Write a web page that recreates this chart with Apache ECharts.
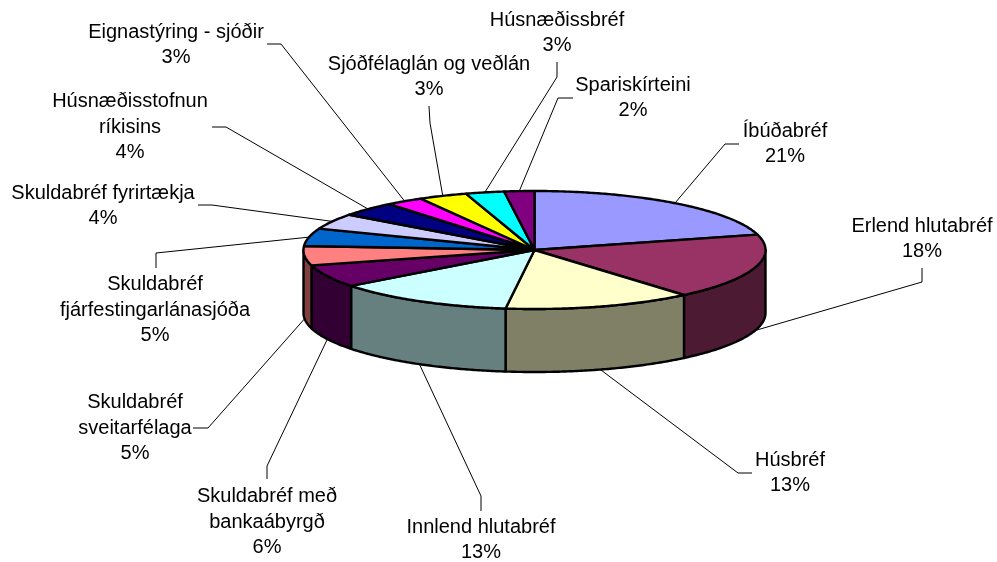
<!DOCTYPE html>
<html>
<head>
<meta charset="utf-8">
<style>html,body{margin:0;padding:0;background:#fff}#c{width:997px;height:562px}</style>
<script src="https://cdn.jsdelivr.net/npm/echarts@6/dist/echarts.min.js"></script>
</head>
<body>
<div id="c"></div>
<script>
// data
const categories = ["Íbúðabréf","Erlend hlutabréf","Húsbréf","Innlend hlutabréf","Skuldabréf með\nbankaábyrgð","Skuldabréf\nsveitarfélaga","Skuldabréf\nfjárfestingarlánasjóða","Skuldabréf fyrirtækja","Húsnæðisstofnun\nríkisins","Eignastýring - sjóðir","Sjóðfélaglán og veðlán","Húsnæðissbréf","Spariskírteini"];
const values = [20.8,18.0,13.2,12.6,6.2,5.3,4.8,4.3,4.0,2.6,3.4,2.7,2.1];
// styles
const topColors = ["#9999FF","#993366","#FFFFCC","#CCFFFF","#660066","#FF8080","#0066CC","#CCCCFF","#000080","#FF00FF","#FFFF00","#00FFFF","#800080"];
const wallColors = ["#4D4D80","#4D1A33","#808066","#668080","#330033","#804040","#003366","#666680","#000040","#800080","#808000","#008080","#400040"];
// layout: label centre and leader elbow points
const labelPos = [[785,144],[922,239],[790,473],[481,540],[267,522],[135,428],[155,310],[103,206],[130,127],[176,45],[429,77],[557,33],[633,98]];
const leaderPts = [
 [[739,144],[725,144]],
 [[922,268],[922,282]],
 [[752,473],[738,473]],
 [[481,511],[481,496]],
 [[267,479],[267,466]],
 [[193,428],[208,428]],
 [[156,268],[156,253]],
 [[198,205],[212,205]],
 [[212,127],[226,127]],
 [[267,44],[281,44]],
 [[429,106],[430,123]],
 [[557,62],[557,77]],
 [[573,98],[558,98]]
];
const cx = 534.5, cy = 250, rx = 231, ry = 59, depth = 63;
const total = values.reduce((a,b)=>a+b,0);
const starts = []; values.reduce((a,b,i)=>{starts[i]=a;return a+b;},0);
const ang = v => v/total*2*Math.PI;
const P = (t,dy) => [cx+rx*Math.sin(t), cy-ry*Math.cos(t)+(dy||0)];
function arc(a,b,dy){const n=Math.max(2,Math.ceil((b-a)/0.01));const r=[];for(let k=0;k<=n;k++)r.push(P(a+(b-a)*k/n,dy));return r;}

function renderPie(params, api){
  const i = api.value(0), v = api.value(1);
  const a = ang(starts[i]), b = a+ang(v);
  const children = [];
  const lo = Math.max(a,Math.PI/2), hi = Math.min(b,1.5*Math.PI);
  if(hi>lo){
    children.push({type:'polygon',shape:{points:arc(lo,hi,0).concat(arc(lo,hi,depth).reverse())},
      style:{fill:wallColors[i],stroke:'#000',lineWidth:2.4,lineJoin:'round'}});
  }
  children.push({type:'polygon',shape:{points:[[cx,cy]].concat(arc(a,b,0))},
    style:{fill:topColors[i],stroke:'#000',lineWidth:2.4,lineJoin:'round'}});
  return {type:'group',children};
}
function renderLabel(params, api){
  const i = api.value(0), v = api.value(1);
  const m = ang(starts[i])+ang(v)/2;
  const front = m>Math.PI/2 && m<1.5*Math.PI;
  const anchor = P(m, front?depth:0);
  const L = labelPos[i];
  return {type:'group',children:[
    {type:'polyline',shape:{points:leaderPts[i].concat([anchor])},style:{fill:null,stroke:'#000',lineWidth:1}},
    {type:'text',style:{x:L[0],y:L[1],text:categories[i]+'\n'+Math.round(v/total*100)+'%',
      align:'center',verticalAlign:'middle',fontFamily:'"Liberation Sans",Arial,sans-serif',fontSize:20,lineHeight:25.7,fill:'#000'}}
  ]};
}
const data = values.map((v,i)=>[i,v]);
const chart = echarts.init(document.getElementById('c'),null,{renderer:'canvas'});
chart.setOption({
  animation:false,
  backgroundColor:'#fff',
  series:[
    {type:'custom',coordinateSystem:'none',renderItem:renderLabel,data,z:1,silent:true,clip:false},
    {type:'custom',coordinateSystem:'none',renderItem:renderPie,data,z:2,silent:true,clip:false}
  ]
});
</script>
</body>
</html>
